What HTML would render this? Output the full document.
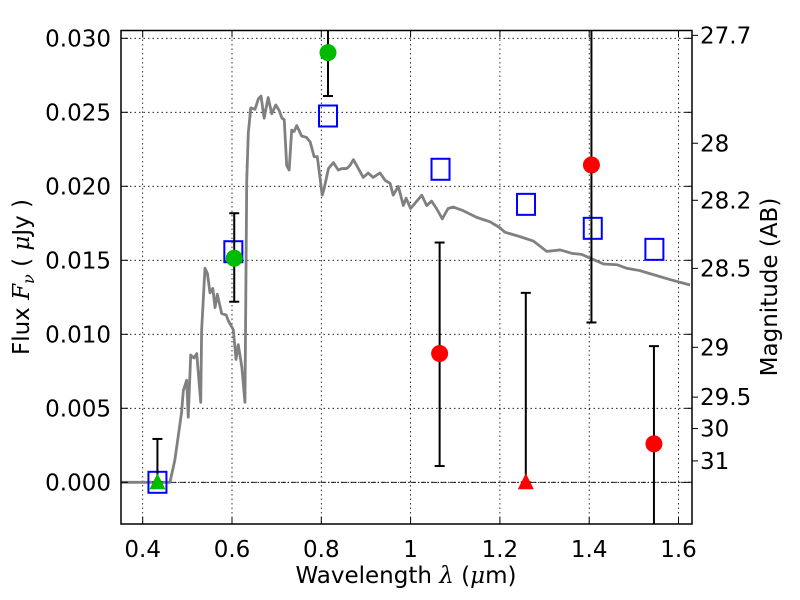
<!DOCTYPE html>
<html><head><meta charset="utf-8">
<style>
html,body{margin:0;padding:0;background:#fff;}
svg{display:block;font-family:"DejaVu Sans","Liberation Sans",sans-serif;}
</style></head>
<body>
<svg id="chart" width="800" height="600" viewBox="0 0 800 600" xmlns="http://www.w3.org/2000/svg">
<defs><clipPath id="plotclip"><rect x="121" y="30.5" width="571" height="493.5"/></clipPath></defs>
<rect x="0" y="0" width="800" height="600" fill="#fff"/>
<g id="grid"></g>
<g id="plot" clip-path="url(#plotclip)"></g>
<rect x="121" y="30.5" width="571" height="493.5" fill="none" stroke="#000" stroke-width="1.5"/>
<g id="axes"></g>
<text x="406" y="583" font-size="23" text-anchor="middle">Wavelength  <tspan font-family="DejaVu Serif" font-style="italic">λ</tspan> (<tspan font-family="DejaVu Serif" font-style="italic">μ</tspan>m)</text>
<text transform="translate(29,277) rotate(-90)" font-size="23" text-anchor="middle">Flux  <tspan font-family="DejaVu Serif" font-style="italic">F<tspan font-size="16" dy="5">ν</tspan></tspan><tspan dy="-5">  ( </tspan><tspan font-family="DejaVu Serif" font-style="italic">μ</tspan>Jy )</text>
<text transform="translate(777,287) rotate(-90)" font-size="23" text-anchor="middle">Magnitude (AB)</text>
</svg>
<script>
const sedWave = [0.35,0.461,0.472,0.487,0.491,0.4985,0.502,0.5075,0.515,0.521,0.530,0.532,0.5395,0.545,0.5507,0.557,0.562,0.567,0.577,0.587,0.592,0.603,0.609,0.614,0.622,0.629,0.633,0.6365,0.642,0.6515,0.659,0.665,0.672,0.681,0.689,0.698,0.706,0.712,0.717,0.7225,0.728,0.7337,0.739,0.745,0.756,0.767,0.775,0.784,0.791,0.797,0.802,0.806,0.816,0.827,0.838,0.846,0.857,0.864,0.872,0.883,0.894,0.905,0.916,0.9315,0.943,0.954,0.961,0.9725,0.9837,0.99,1.0,1.025,1.036,1.047,1.058,1.071,1.084,1.0956,1.118,1.148,1.178,1.2,1.211,1.245,1.275,1.305,1.335,1.361,1.383,1.4056,1.432,1.462,1.484,1.514,1.536,1.581,1.626];
const sedFlux = [0,0,0.0015,0.0047,0.0062,0.0069,0.0044,0.0086,0.0084,0.0087,0.0054,0.0103,0.01446,0.0141,0.0128,0.0131,0.0118,0.0127,0.0114,0.0113,0.0109,0.0103,0.0083,0.0093,0.0078,0.0054,0.0204,0.0236,0.0253,0.0252,0.0259,0.0261,0.0246,0.026,0.0249,0.0255,0.0251,0.0246,0.0245,0.0214,0.0211,0.0238,0.0237,0.0241,0.0234,0.0233,0.023,0.022,0.022,0.0206,0.0194,0.0198,0.0212,0.0216,0.0211,0.0212,0.0212,0.0214,0.0218,0.0212,0.0206,0.0209,0.0206,0.0209,0.0204,0.0202,0.0194,0.02,0.0187,0.0192,0.0185,0.0194,0.0187,0.019,0.0185,0.0178,0.0185,0.0186,0.01835,0.0179,0.0176,0.0172,0.0169,0.0166,0.0163,0.0156,0.0157,0.01547,0.0154,0.0151,0.01475,0.0147,0.01446,0.0143,0.0141,0.0137,0.01333];
const modelWave = [0.433,0.603,0.815,1.067,1.2585,1.408,1.546];
const modelFlux = [0,0.01558,0.02475,0.02115,0.01878,0.01716,0.01574];
const greenWave = [0.605,0.815];
const greenFlux = [0.01514,0.02903];
const greenLo = [0.0122,0.0261];
const greenHi = [0.01818,0.0340];
const greenTriWave = [0.433];
const greenTriFlux = [0];
const greenTriHi = [0.00293];
const redWave = [1.065,1.405,1.545];
const redFlux = [0.0087,0.02144,0.0026];
const redLo = [0.0011,0.0108,-0.006];
const redHi = [0.0162,0.0340,0.0092];
const redTriWave = [1.258];
const redTriFlux = [0];
const redTriHi = [0.0128];
const xTicks = [0.4,0.6,0.8,1.0,1.2,1.4,1.6];
const xTickLabels = ["0.4","0.6","0.8","1","1.2","1.4","1.6"];
const yTicks = [0,0.005,0.01,0.015,0.02,0.025,0.03];
const yTickLabels = ["0.000","0.005","0.010","0.015","0.020","0.025","0.030"];
const magTicks = [27.7,28,28.2,28.5,29,29.5,30,31];
const magTickLabels = ["27.7","28","28.2","28.5","29","29.5","30","31"];

const X = l => 142.7 + (l - 0.4) * 446.5;
const Y = f => 482.3 - f * 14800;
const NS = "http://www.w3.org/2000/svg";
function mk(parent, tag, attrs){ const e=document.createElementNS(NS,tag); for(const k in attrs) e.setAttribute(k,attrs[k]); parent.appendChild(e); return e; }
const grid=document.getElementById('grid'), plot=document.getElementById('plot'), axes=document.getElementById('axes');

xTicks.forEach((t,i)=>{
  const g=mk(grid,'line',{x1:X(t),x2:X(t),y1:30.5,y2:524,stroke:'#000','stroke-width':0.8,'stroke-dasharray':'1.5,3'});
  
  
  mk(axes,'line',{x1:X(t),x2:X(t),y1:524,y2:517,stroke:'#000','stroke-width':1});
  mk(axes,'line',{x1:X(t),x2:X(t),y1:30.5,y2:37.5,stroke:'#000','stroke-width':1});
  const tx=mk(axes,'text',{x:X(t),y:557,'font-size':23,'text-anchor':'middle'});
  tx.textContent=xTickLabels[i];
  
  
});
yTicks.forEach((t,i)=>{
  const g=mk(grid,'line',{x1:121,x2:692,y1:Y(t),y2:Y(t),stroke:'#000','stroke-width':0.8,'stroke-dasharray':'1.5,3'});
  
  
  mk(axes,'line',{x1:121,x2:128,y1:Y(t),y2:Y(t),stroke:'#000','stroke-width':1});
  mk(axes,'line',{x1:692,x2:685,y1:Y(t),y2:Y(t),stroke:'#000','stroke-width':1});
  const tx=mk(axes,'text',{x:111,y:Y(t)+8,'font-size':23,'text-anchor':'end'});
  tx.textContent=yTickLabels[i];
  
  
});
magTicks.forEach((m,i)=>{
  const f=Math.pow(10,(23.9-m)/2.5);
  mk(axes,'line',{x1:692,x2:698,y1:Y(f),y2:Y(f),stroke:'#000','stroke-width':1});
  const tx=mk(axes,'text',{x:700,y:Y(f)+8,'font-size':23,'text-anchor':'start'});
  tx.textContent=magTickLabels[i];
  
  
});
const z=mk(plot,'line',{x1:121,x2:692,y1:Y(0),y2:Y(0),stroke:'#000','stroke-width':0.8,'stroke-dasharray':'5,2,1,2'});


const sed=mk(plot,'polyline',{points:sedWave.map((l,i)=>X(l)+','+Y(sedFlux[i])).join(' '),fill:'none',stroke:'#808080','stroke-width':2.8,'stroke-linejoin':'round'});


function ebar(l,lo,hi,name){
  const g=mk(plot,'g',{});
  
  
  mk(g,'line',{x1:X(l),x2:X(l),y1:Y(lo),y2:Y(hi),stroke:'#000','stroke-width':2});
  mk(g,'line',{x1:X(l)-5,x2:X(l)+5,y1:Y(lo),y2:Y(lo),stroke:'#000','stroke-width':2});
  mk(g,'line',{x1:X(l)-5,x2:X(l)+5,y1:Y(hi),y2:Y(hi),stroke:'#000','stroke-width':2});
}
modelWave.forEach((l,i)=>{
  const r=mk(plot,'rect',{x:X(l)-9,y:Y(modelFlux[i])-10.5,width:18,height:21,fill:'none',stroke:'#0000ff','stroke-width':2});
  
  
});
greenTriWave.forEach((l,i)=>{
  ebar(l,greenTriFlux[i],greenTriHi[i],'green-upper-limit-errorbar');
  const p=mk(plot,'polygon',{points:`${X(l)},${Y(greenTriFlux[i])-9} ${X(l)-8},${Y(greenTriFlux[i])+7} ${X(l)+8},${Y(greenTriFlux[i])+7}`,fill:'#00bb00'});
  
  
});
greenWave.forEach((l,i)=>{
  ebar(l,greenLo[i],greenHi[i],'green-errorbar');
  const c=mk(plot,'circle',{cx:X(l),cy:Y(greenFlux[i]),r:8.5,fill:'#00bb00'});
  
  
});
redTriWave.forEach((l,i)=>{
  ebar(l,redTriFlux[i],redTriHi[i],'red-upper-limit-errorbar');
  const p=mk(plot,'polygon',{points:`${X(l)},${Y(redTriFlux[i])-9} ${X(l)-8},${Y(redTriFlux[i])+7} ${X(l)+8},${Y(redTriFlux[i])+7}`,fill:'#ff0000'});
  
  
});
redWave.forEach((l,i)=>{
  ebar(l,redLo[i],redHi[i],'red-errorbar');
  const c=mk(plot,'circle',{cx:X(l),cy:Y(redFlux[i]),r:8.5,fill:'#ff0000'});
  
  
});
</script>
</body></html>
